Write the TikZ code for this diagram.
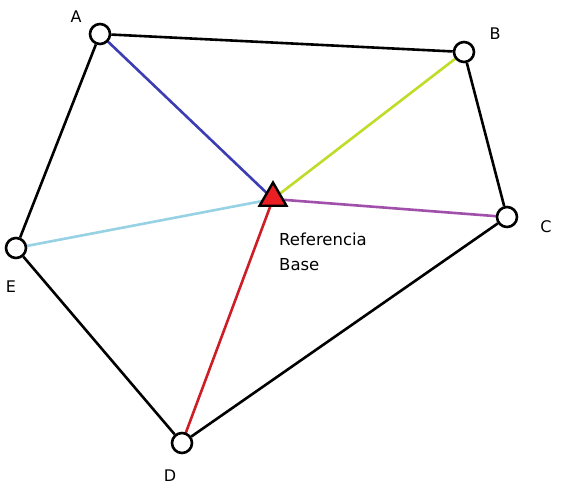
\documentclass[tikz,border=0pt]{standalone}
\usepackage{fontspec}
\setmainfont{DejaVu Sans}
\usetikzlibrary{shapes.geometric}
\definecolor{lblue}{RGB}{60,60,180}
\definecolor{lgreen}{RGB}{190,220,40}
\definecolor{lpurple}{RGB}{160,80,170}
\definecolor{lcyan}{RGB}{150,210,228}
\definecolor{lred}{RGB}{205,30,40}
\definecolor{tred}{RGB}{235,30,35}
\begin{document}
\begin{tikzpicture}[x=1pt,y=-1pt,
  pt/.style={circle,draw=black,fill=white,line width=2.6pt,minimum size=20pt,inner sep=0pt},
  edge/.style={line width=2.6pt,black},
  ray/.style={line width=2.6pt},
  lab/.style={font=\fontsize{16}{25}\selectfont,inner sep=0pt}]
\useasboundingbox (0,0) rectangle (572,485);
\coordinate (R) at (273,199);
\draw[ray,lblue] (100,34) -- (R);
\draw[ray,lgreen] (464,52) -- (R);
\draw[ray,lpurple] (507,217) -- (R);
\draw[ray,lcyan] (16,248) -- (R);
\draw[ray,lred] (182,443) -- (R);
\node[pt] (A) at (100,34) {};
\node[pt] (B) at (464,52) {};
\node[pt] (C) at (507,217) {};
\node[pt] (D) at (182,443) {};
\node[pt] (E) at (16,248) {};
\draw[edge] (A) -- (B);
\draw[edge] (B) -- (C);
\draw[edge] (C) -- (D);
\draw[edge] (D) -- (E);
\draw[edge] (E) -- (A);
\node[regular polygon,regular polygon sides=3,draw=black,fill=tred,line width=2.4pt,minimum size=31pt,inner sep=0pt] (T) at (273,198) {};
\node[lab] (la) at (76,17) {A};
\node[lab] (lb) at (495,34) {B};
\node[lab] (lc) at (546,227) {C};
\node[lab] (ld) at (170,476) {D};
\node[lab] (le) at (11,287) {E};
\node[lab,anchor=west,align=left,font=\fontsize{16.5}{25}\selectfont] (ref) at (279,252) {Referencia\\Base};
\end{tikzpicture}
\end{document}
